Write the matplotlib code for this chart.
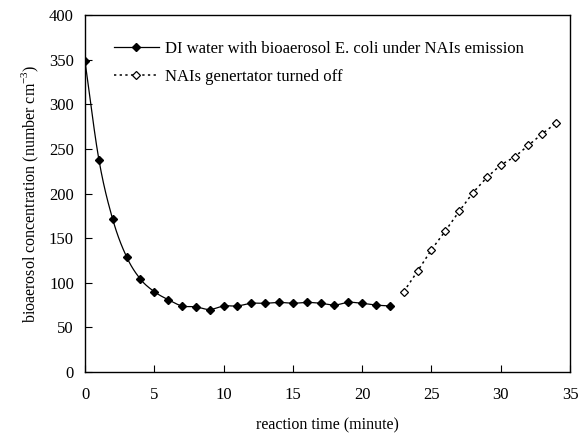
import numpy as np
import matplotlib.pyplot as plt

plt.rcParams['font.family'] = ['Liberation Serif', 'DejaVu Serif']
plt.rcParams['mathtext.fontset'] = 'custom'
plt.rcParams['mathtext.rm'] = 'Liberation Serif'

# series
t_on = list(range(0, 23))
conc_on = [348, 238, 171, 129, 104, 90, 81, 74, 73, 70, 74, 74, 77, 77, 78, 77, 78, 77, 75, 78, 77, 75, 74]
t_off = list(range(23, 35))
conc_off = [90, 113, 137, 158, 180, 201, 218, 232, 241, 254, 267, 279]

lab_on = 'DI water with bioaerosol E. coli under NAIs emission'
lab_off = 'NAIs genertator turned off'


def smooth(x, y, n=12):
    # catmull-rom curve through the points (like excel smoothed line)
    x = np.asarray(x, float)
    y = np.asarray(y, float)
    px = np.concatenate([[2 * x[0] - x[1]], x, [2 * x[-1] - x[-2]]])
    py = np.concatenate([[2 * y[0] - y[1]], y, [2 * y[-1] - y[-2]]])
    xs, ys = [], []
    s = np.linspace(0, 1, n, endpoint=False)
    for i in range(1, len(px) - 2):
        for p, out in ((px, xs), (py, ys)):
            p0, p1, p2, p3 = p[i - 1], p[i], p[i + 1], p[i + 2]
            out.extend(0.5 * (2 * p1 + (-p0 + p2) * s + (2 * p0 - 5 * p1 + 4 * p2 - p3) * s ** 2
                              + (-p0 + 3 * p1 - 3 * p2 + p3) * s ** 3))
    xs.append(x[-1])
    ys.append(y[-1])
    return xs, ys


fig = plt.figure(figsize=(5.88, 4.47), dpi=100)
ax = fig.add_axes([0.1446, 0.1678, 0.9694 - 0.1446, 0.9664 - 0.1678])

sx, sy = smooth(t_on, conc_on)
ax.plot(sx, sy, color='black', lw=0.9)
ax.plot(t_on, conc_on, ls='none', marker='D', ms=4.5, color='black')
h1, = ax.plot([], [], color='black', lw=0.9, marker='D', ms=4.5)

h2, = ax.plot(t_off, conc_off, color='black', lw=1.1, ls=(0, (1.5, 2.2)),
              marker='D', ms=4, mfc='white', mec='black', mew=0.9)

ax.set_xlim(0, 35)
ax.set_ylim(0, 400)
ax.set_xticks(range(0, 36, 5))
ax.set_yticks(range(0, 401, 50))
ax.tick_params(direction='in', length=5, labelsize=12, width=0.8, pad=8)
ax.tick_params(axis='x', pad=11)
for sp in ax.spines.values():
    sp.set_linewidth(1.0)

ax.set_xlabel('reaction time (minute)', fontsize=11.5, labelpad=10)
ax.set_ylabel('bioaerosol concentration (number cm$^{-3}$)', fontsize=11.5, labelpad=6)

ax.legend(handles=[h1, h2], labels=[lab_on, lab_off], loc='upper left', frameon=False,
          fontsize=12, handlelength=2.7, handletextpad=0.4, labelspacing=0.68,
          bbox_to_anchor=(0.045, 0.945), borderaxespad=0)

fig.savefig('out.png', dpi=100)
